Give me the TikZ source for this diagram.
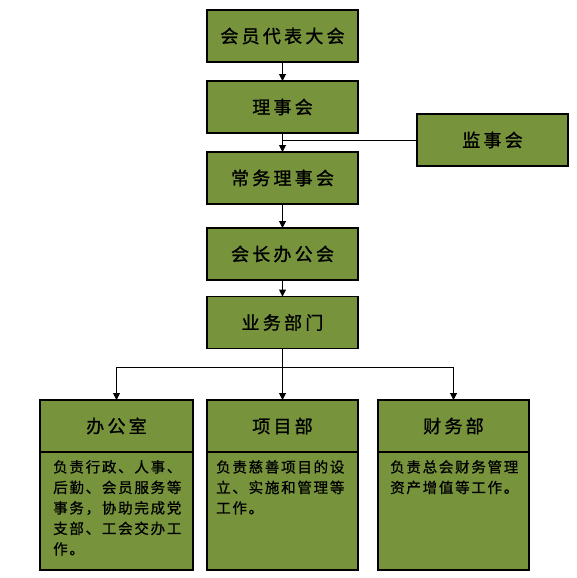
\documentclass[tikz,border=0pt]{standalone}
\usepackage{fontspec}
\usepackage{xcolor}
\usetikzlibrary{arrows.meta}
\newfontfamily\cjktitle[LetterSpace=18,FakeBold=1.2]{Noto Sans CJK SC}
\newfontfamily\cjkbody[LetterSpace=12,FakeBold=0.8]{Noto Sans CJK SC}
\definecolor{olivebox}{RGB}{119,147,60}

\begin{document}
\begin{tikzpicture}[x=1pt,y=1pt,
  orgbox/.style={draw=black, line width=1.2pt, fill=olivebox, minimum width=151pt,
    minimum height=52pt, inner sep=0pt, outer sep=0pt,
    font=\cjktitle\fontsize{18}{21}\selectfont},
  bodybox/.style={orgbox, minimum height=118pt},
  bodytext/.style={anchor=north west, inner sep=0pt, align=left,
    font=\cjkbody\fontsize{14.5}{20.5}\selectfont},
  conn/.style={line width=1pt},
  arr/.style={conn, -{Triangle[length=7pt,width=7pt]}}]
\useasboundingbox (0,0) rectangle (577,-578);

% Top chain
\node[orgbox] (hydb) at (282.5,-36) {会员代表大会};
\node[orgbox] (lsh) at (282.5,-107) {理事会};
\node[orgbox] (jsh) at (492.5,-140) {监事会};
\node[orgbox] (cwlsh) at (282.5,-178) {常务理事会};
\node[orgbox] (hzbgh) at (282.5,-254) {会长办公会};
\node[orgbox] (ywbm) at (282.5,-322.5) {业务部门};

% Departments
\node[orgbox, minimum width=153pt] (bgs) at (116.5,-426) {办公室};
\node[bodybox, minimum width=153pt] (bgsbody) at (116.5,-511) {};
\node[bodytext] (bgstxt) at ([xshift=13pt,yshift=-8pt]bgsbody.north west)
  {负责行政、人事、\\后勤、会员服务等\\事务，协助完成党\\支部、工会交办工\\作。};

\node[orgbox] (xmb) at (282.5,-426) {项目部};
\node[bodybox] (xmbbody) at (282.5,-511) {};
\node[bodytext] (xmbtxt) at ([xshift=9pt,yshift=-8pt]xmbbody.north west)
  {负责慈善项目的设\\立、实施和管理等\\工作。};

\node[orgbox] (cwb) at (453.5,-426) {财务部};
\node[bodybox] (cwbbody) at (453.5,-511) {};
\node[bodytext] (cwbtxt) at ([xshift=12pt,yshift=-8pt]cwbbody.north west)
  {负责总会财务管理\\资产增值等工作。};

% Connectors
\draw[arr] (hydb) -- (lsh);
\draw[arr] (lsh) -- (cwlsh);
\draw[conn] (jsh.west) -- (jsh.west -| lsh.south);
\draw[arr] (cwlsh) -- (hzbgh);
\draw[arr] (hzbgh) -- (ywbm);
\coordinate (fen) at ([yshift=-18.5pt]ywbm.south);
\draw[conn] (ywbm.south) -- (fen);
\draw[conn] (fen -| bgs.north) -- (fen -| cwb.north);
\draw[arr] (fen -| bgs.north) -- (bgs.north);
\draw[arr] (fen) -- (xmb.north);
\draw[arr] (fen -| cwb.north) -- (cwb.north);
\end{tikzpicture}
\end{document}
